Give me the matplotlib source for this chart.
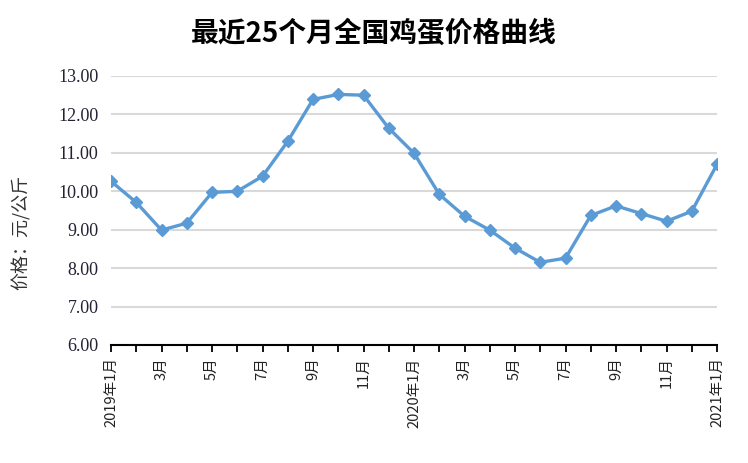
import matplotlib
matplotlib.use('Agg')
import matplotlib.pyplot as plt

plt.rcParams['font.family'] = ['Noto Sans CJK SC', 'DejaVu Sans']

months = ['2019年1月', '', '3月', '', '5月', '', '7月', '', '9月', '', '11月', '',
          '2020年1月', '', '3月', '', '5月', '', '7月', '', '9月', '', '11月', '',
          '2021年1月']
prices = [10.26, 9.71, 8.99, 9.17, 9.97, 10.00, 10.39, 11.30, 12.39, 12.52, 12.50, 11.64,
          10.99, 9.92, 9.35, 8.99, 8.52, 8.15, 8.26, 9.37, 9.62, 9.42, 9.22, 9.48,
          10.70]
yticks = [6, 7, 8, 9, 10, 11, 12, 13]

fig = plt.figure(figsize=(7.48, 4.63), dpi=100)
ax = fig.add_axes([0.1484, 0.2549, 0.8102, 0.581])

x = list(range(len(prices)))
ax.plot(x, prices, color='#5B9BD5', lw=2.4, marker='D', ms=6.5,
        solid_joinstyle='round', zorder=3)

ax.set_xlim(0, len(prices) - 1)
ax.set_ylim(6, 13)
ax.set_yticks(yticks)
ax.set_yticklabels([f'{v:.2f}' for v in yticks], fontsize=13, color='#222233',
                   family=['Liberation Serif', 'DejaVu Serif'])
ax.set_xticks(x)
ax.set_xticklabels(months, rotation=90, fontsize=10.5, color='#222222', va='top')

ax.grid(axis='y', color='#D9D9D9', lw=1.5, zorder=0)
ax.tick_params(axis='y', length=0, pad=9)
ax.tick_params(axis='x', direction='out', length=5, width=1.3, color='black', pad=4)

for s in ['top', 'right', 'left']:
    ax.spines[s].set_visible(False)
ax.spines['bottom'].set_linewidth(1.5)
ax.spines['bottom'].set_color('black')
ax.spines['bottom'].set_zorder(4)

fig.text(0.028, 0.497, '价格：元/公斤', rotation=90, ha='center', va='center',
         fontsize=13, color='#333333')
fig.text(0.5, 0.928, '最近25个月全国鸡蛋价格曲线', ha='center', va='center',
         fontsize=20, fontweight='bold', color='black')

fig.savefig('out.png', dpi=100)
